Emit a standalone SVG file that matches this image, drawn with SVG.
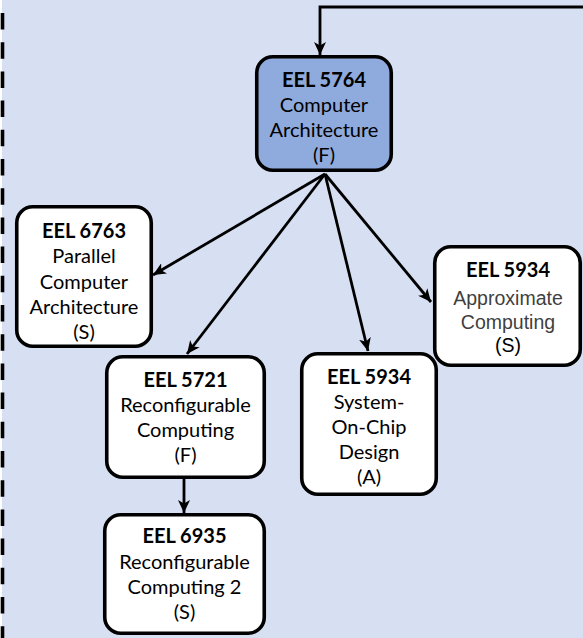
<svg xmlns="http://www.w3.org/2000/svg" width="583" height="638" viewBox="0 0 583 638">
  <style>
    .box { fill: #ffffff; stroke: #000000; stroke-width: 3.6; }
    .main { fill: #8FAADC; }
    .t { font-family: Lato, "Liberation Sans", sans-serif; font-size: 20px; fill: #000000; text-anchor: middle; }
    .b { font-weight: bold; }
    .a { font-family: "Liberation Sans", Arial, sans-serif; font-size: 19.5px; text-anchor: middle; }
    .grey { fill: #3f3f3f; }
    .wire { fill: none; stroke: #000000; stroke-width: 2.8; marker-end: url(#head); }
  </style>
  <defs>
    <marker id="head" markerUnits="userSpaceOnUse" markerWidth="14" markerHeight="12" refX="13" refY="6" orient="auto">
      <path d="M0,0 L13,6 L0,12 L3.5,6 z" fill="#000000"/>
    </marker>
  </defs>

  <!-- backdrop and dashed frame edge -->
  <rect x="0" y="0" width="583" height="638" fill="#ffffff"/>
  <rect x="2" y="0" width="581" height="638" fill="#D6E0F2"/>
  <line x1="2.5" y1="13" x2="2.5" y2="638" stroke="#000000" stroke-width="3.6" stroke-dasharray="16.5 12.7"/>

  <g id="connectors">
    <path class="wire" d="M583,7 H320 V55"/>
    <path class="wire" d="M325,174 L153,275"/>
    <path class="wire" d="M325,174 L187,354"/>
    <path class="wire" d="M325,174 L368,351"/>
    <path class="wire" d="M325,174 L431,302"/>
    <path class="wire" d="M184,479 L184,513"/>
  </g>

  <g id="eel5764">
    <rect class="box main" x="256.75" y="56.75" width="134.5" height="113.5" rx="16"/>
    <text class="t b" x="324" y="87">EEL 5764</text>
    <text class="t" x="324" y="112">Computer</text>
    <text class="t" x="324" y="137">Architecture</text>
    <text class="t" x="324" y="162">(F)</text>
  </g>

  <g id="eel6763">
    <rect class="box" x="16.75" y="206.75" width="134.5" height="139.5" rx="16"/>
    <text class="t b" x="84" y="238">EEL 6763</text>
    <text class="t" x="84" y="263">Parallel</text>
    <text class="t" x="84" y="289">Computer</text>
    <text class="t" x="84" y="314">Architecture</text>
    <text class="t" x="84" y="339">(S)</text>
  </g>

  <g id="eel5721">
    <rect class="box" x="106.75" y="356.75" width="157.5" height="120.5" rx="16"/>
    <text class="t b" x="185.5" y="387">EEL 5721</text>
    <text class="t" x="185.5" y="412">Reconfigurable</text>
    <text class="t" x="185.5" y="437">Computing</text>
    <text class="t" x="185.5" y="462">(F)</text>
  </g>

  <g id="eel6935">
    <rect class="box" x="104.75" y="514.75" width="159.5" height="118.5" rx="16"/>
    <text class="t b" x="184.5" y="543">EEL 6935</text>
    <text class="t" x="184.5" y="569">Reconfigurable</text>
    <text class="t" x="184.5" y="594">Computing 2</text>
    <text class="t" x="184.5" y="619">(S)</text>
  </g>

  <g id="eel5934-soc">
    <rect class="box" x="301.75" y="353.75" width="134.5" height="140.5" rx="16"/>
    <text class="t b" x="369" y="384">EEL 5934</text>
    <text class="t" x="369" y="409">System-</text>
    <text class="t" x="369" y="434">On-Chip</text>
    <text class="t" x="369" y="459">Design</text>
    <text class="t" x="369" y="484">(A)</text>
  </g>

  <g id="eel5934-approx">
    <rect class="box" x="434.75" y="246.75" width="145.5" height="118.5" rx="16"/>
    <text class="t b" x="508" y="277">EEL 5934</text>
    <text class="a grey" x="508" y="305">Approximate</text>
    <text class="a grey" x="508" y="329">Computing</text>
    <text class="a" x="508" y="352">(S)</text>
  </g>
</svg>
